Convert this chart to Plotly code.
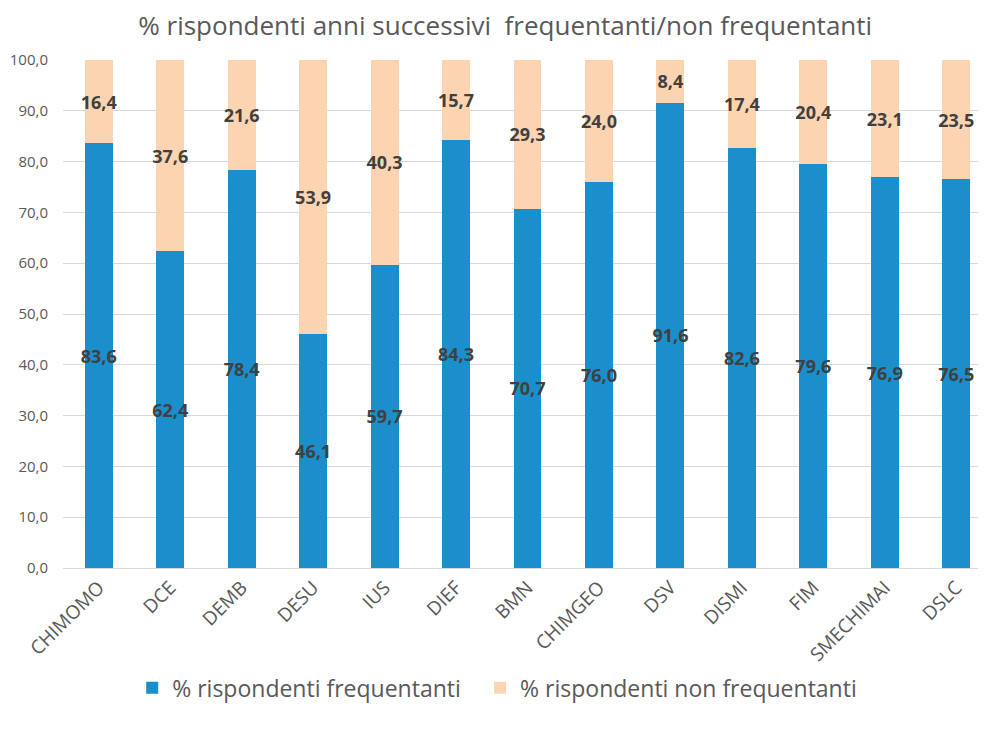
import plotly.graph_objects as go

categories = ["CHIMOMO", "DCE", "DEMB", "DESU", "IUS", "DIEF", "BMN", "CHIMGEO",
              "DSV", "DISMI", "FIM", "SMECHIMAI", "DSLC"]
frequentanti = [83.6, 62.4, 78.4, 46.1, 59.7, 84.3, 70.7, 76.0, 91.6, 82.6, 79.6, 76.9, 76.5]
non_frequentanti = [16.4, 37.6, 21.6, 53.9, 40.3, 15.7, 29.3, 24.0, 8.4, 17.4, 20.4, 23.1, 23.5]
y_ticks = [0, 10, 20, 30, 40, 50, 60, 70, 80, 90, 100]

FONT = "Open Sans"
label_font = dict(family=FONT, size=18, color="#404040", weight="bold")
legend_font = dict(family=FONT, size=23, color="#595959")

fig = go.Figure()
fig.add_trace(go.Bar(
    x=categories, y=frequentanti, name="% rispondenti frequentanti",
    marker=dict(color="#1b8fcb", line=dict(width=0)),
    texttemplate="%{y:.1f}", textposition="inside", insidetextanchor="middle",
    textangle=0, constraintext="none", textfont=label_font,
    legend="legend", showlegend=True,
))
fig.add_trace(go.Bar(
    x=categories, y=non_frequentanti, name="% rispondenti non frequentanti",
    marker=dict(color="#fdd4b2", line=dict(width=0)),
    texttemplate="%{y:.1f}", textposition="inside", insidetextanchor="middle",
    textangle=0, constraintext="none", textfont=label_font,
    legend="legend2", showlegend=True,
))

fig.update_layout(
    barmode="stack", bargap=0.61,
    separators=",.",
    width=986, height=729,
    paper_bgcolor="white", plot_bgcolor="white",
    margin=dict(l=55, r=2, t=52, b=169),
    showlegend=True,
    title=dict(text="% rispondenti anni successivi  frequentanti/non frequentanti",
               x=0.476, xref="paper", xanchor="center", y=0.975, yanchor="middle",
               font=dict(family=FONT, size=26, color="#595959")),
    font=dict(family=FONT, color="#595959"),
    legend=dict(orientation="h", x=0.0745, xanchor="left", y=-0.236, yanchor="middle",
                font=legend_font, visible=True),
    legend2=dict(orientation="h", x=0.449, xanchor="left", y=-0.236, yanchor="middle",
                 font=legend_font, visible=True),
)
fig.update_xaxes(
    tickangle=-45, tickfont=dict(family=FONT, size=19, color="#595959"),
    showgrid=False, showline=True, linecolor="#d9d9d9", linewidth=1,
    range=[-0.5, 12.5], ticks="",
)
fig.update_yaxes(
    range=[0, 100], tickvals=y_ticks, tickformat=".1f",
    tickfont=dict(family=FONT, size=15, color="#595959"),
    showgrid=True, gridcolor="#d9d9d9", gridwidth=1, zeroline=False,
    ticks="", ticklabelstandoff=14,
)

fig.write_html("out.html")
